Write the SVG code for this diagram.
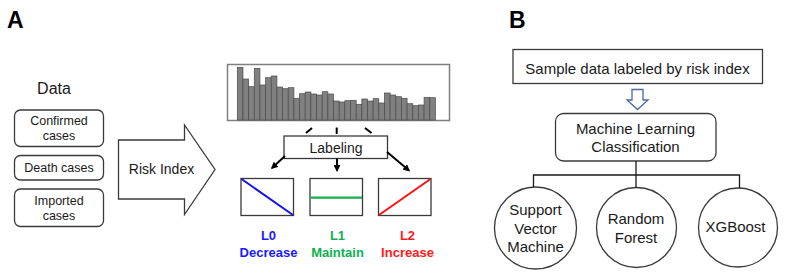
<svg xmlns="http://www.w3.org/2000/svg" width="787" height="275" viewBox="0 0 787 275">
<defs>
<style>
text{font-family:"Liberation Sans",Arial,sans-serif;fill:#1a1a1a;text-anchor:middle}
.panel{font-size:23px;font-weight:bold;text-anchor:start;fill:#000}
.box{fill:#fff;stroke:#3a3a3a;stroke-width:1.3}
.t12{font-size:12.5px}
.t14{font-size:14px}
.t15{font-size:15px}
.lab{font-size:13px;font-weight:bold}
.bar{fill:#808080;stroke:#4a4a4a;stroke-width:0.7}
.arr{stroke:#000;stroke-width:2;fill:none;marker-end:url(#ah)}
.tree{stroke:#1a1a1a;stroke-width:1.3;fill:none}
</style>
<marker id="ah" viewBox="0 0 10 10" refX="8" refY="5" markerWidth="3.5" markerHeight="3.5" orient="auto" markerUnits="strokeWidth">
<path d="M0,0 L10,5 L0,10 z" fill="#000"/>
</marker>
</defs>
<rect width="787" height="275" fill="#fff"/>

<text class="panel" x="7" y="28">A</text>
<text class="panel" x="509" y="28">B</text>

<g id="data-label"><text x="54" y="94" style="font-size:16px">Data</text></g>
<g id="confirmed">
<rect class="box" x="14.5" y="110" width="89" height="36.5" rx="6"/>
<text class="t12" x="59" y="125">Confirmed</text>
<text class="t12" x="59" y="140">cases</text>
</g>
<g id="death">
<rect class="box" x="14.5" y="155.5" width="89" height="24.5" rx="6"/>
<text class="t12" x="59" y="172">Death cases</text>
</g>
<g id="imported">
<rect class="box" x="14.5" y="189" width="89" height="37.5" rx="6"/>
<text class="t12" x="59" y="205">Imported</text>
<text class="t12" x="59" y="220">cases</text>
</g>

<g id="risk-index">
<path class="box" d="M118.5,140 L184.5,140 L184.5,125 L215,169.5 L184.5,214.5 L184.5,199 L118.5,199 z"/>
<text class="t14" x="161.5" y="174">Risk Index</text>
</g>

<g id="chart">
<rect x="227.5" y="64.5" width="222" height="56" fill="#fff" stroke="#808080" stroke-width="1.5"/>
<rect class="bar" x="237.3" y="67.3" width="5.66" height="52.7"/>
<rect class="bar" x="242.96" y="79" width="5.66" height="41"/>
<rect class="bar" x="248.62" y="86.7" width="5.66" height="33.3"/>
<rect class="bar" x="254.28" y="68.3" width="5.66" height="51.7"/>
<rect class="bar" x="259.94" y="85" width="5.66" height="35"/>
<rect class="bar" x="265.6" y="77.7" width="5.66" height="42.3"/>
<rect class="bar" x="271.26" y="76" width="5.66" height="44"/>
<rect class="bar" x="276.92" y="87" width="5.66" height="33"/>
<rect class="bar" x="282.58" y="88.7" width="5.66" height="31.3"/>
<rect class="bar" x="288.24" y="87.7" width="5.66" height="32.3"/>
<rect class="bar" x="293.9" y="98.3" width="5.66" height="21.7"/>
<rect class="bar" x="299.56" y="93.7" width="5.66" height="26.3"/>
<rect class="bar" x="305.22" y="92" width="5.66" height="28"/>
<rect class="bar" x="310.88" y="94" width="5.66" height="26"/>
<rect class="bar" x="316.54" y="95" width="5.66" height="25"/>
<rect class="bar" x="322.2" y="91.7" width="5.66" height="28.3"/>
<rect class="bar" x="327.86" y="94" width="5.66" height="26"/>
<rect class="bar" x="333.52" y="101" width="5.66" height="19"/>
<rect class="bar" x="339.18" y="102" width="5.66" height="18"/>
<rect class="bar" x="344.84" y="100.7" width="5.66" height="19.3"/>
<rect class="bar" x="350.5" y="100.3" width="5.66" height="19.7"/>
<rect class="bar" x="356.16" y="104.3" width="5.66" height="15.7"/>
<rect class="bar" x="361.82" y="99" width="5.66" height="21"/>
<rect class="bar" x="367.48" y="101" width="5.66" height="19"/>
<rect class="bar" x="373.14" y="98.7" width="5.66" height="21.3"/>
<rect class="bar" x="378.8" y="103" width="5.66" height="17"/>
<rect class="bar" x="384.46" y="93" width="5.66" height="27"/>
<rect class="bar" x="390.12" y="95" width="5.66" height="25"/>
<rect class="bar" x="395.78" y="96.7" width="5.66" height="23.3"/>
<rect class="bar" x="401.44" y="98.3" width="5.66" height="21.7"/>
<rect class="bar" x="407.1" y="103.7" width="5.66" height="16.3"/>
<rect class="bar" x="412.76" y="105.7" width="5.66" height="14.3"/>
<rect class="bar" x="418.42" y="105" width="5.66" height="15"/>
<rect class="bar" x="424.08" y="97.3" width="5.66" height="22.7"/>
<rect class="bar" x="429.74" y="97.7" width="5.66" height="22.3"/>
</g>

<g id="labeling">
<rect class="box" x="284" y="136" width="103.5" height="22.5"/>
<text class="t14" x="336" y="152.5">Labeling</text>
</g>

<g id="l0">
<rect class="box" x="241" y="178.5" width="52.5" height="37"/>
<line x1="241.5" y1="179" x2="293" y2="215" stroke="#1010ee" stroke-width="2"/>
<text class="lab" x="268.5" y="240" style="fill:#1a1aff">L0</text>
<text class="lab" x="268.5" y="256.5" style="fill:#1a1aff">Decrease</text>
</g>
<g id="l1">
<rect class="box" x="310" y="178.5" width="52.5" height="37"/>
<line x1="310.5" y1="197.7" x2="362" y2="197.7" stroke="#12b04c" stroke-width="2.2"/>
<text class="lab" x="337.5" y="240" style="fill:#10b050">L1</text>
<text class="lab" x="337.5" y="256.5" style="fill:#10b050">Maintain</text>
</g>
<g id="l2">
<rect class="box" x="378.5" y="178.5" width="52.5" height="37"/>
<line x1="379" y1="215" x2="430.5" y2="179" stroke="#ff1010" stroke-width="2"/>
<text class="lab" x="407.5" y="240" style="fill:#ff1a1a">L2</text>
<text class="lab" x="407.5" y="256.5" style="fill:#ff1a1a">Increase</text>
</g>

<g id="sample">
<rect class="box" x="513" y="49.5" width="249.5" height="34"/>
<text class="t15" x="637.5" y="73.5">Sample data labeled by risk index</text>
</g>
<g id="ml">
<rect class="box" x="555.5" y="113.5" width="160.5" height="47.5" rx="8"/>
<text class="t15" x="635.5" y="133.5">Machine Learning</text>
<text class="t15" x="635.5" y="152">Classification</text>
</g>
<g id="svm">
<circle class="box" cx="535.5" cy="228" r="41"/>
<text class="t15" x="535.5" y="214.5">Support</text>
<text class="t15" x="535.5" y="233.5">Vector</text>
<text class="t15" x="535.5" y="252">Machine</text>
</g>
<g id="rf">
<circle class="box" cx="636.5" cy="227.5" r="40"/>
<text class="t15" x="636" y="223.5">Random</text>
<text class="t15" x="636" y="242.5">Forest</text>
</g>
<g id="xgb">
<circle class="box" cx="738" cy="227.5" r="39.5"/>
<text class="t15" x="735.5" y="232">XGBoost</text>
</g>

<g id="connectors">
<path d="M306,133 L312,128" stroke="#000" stroke-width="2" fill="none"/>
<path d="M336.7,127.5 L336.7,134" stroke="#000" stroke-width="2" fill="none"/>
<path d="M365,128 L371.5,133" stroke="#000" stroke-width="2" fill="none"/>
<line class="arr" x1="285" y1="156" x2="272" y2="168"/>
<line class="arr" x1="337" y1="158.5" x2="337" y2="170.5"/>
<line class="arr" x1="387" y1="152" x2="409" y2="170.5"/>
<path d="M632,89.5 L643,89.5 L643,100 L648,100 L637.5,109.5 L627,100 L632,100 z" fill="#fff" stroke="#4a6b9c" stroke-width="1.3"/>
<path class="tree" d="M636,161 L636,187.5 M533.5,187 L533.5,175 L739.5,175 L739.5,188"/>
</g>
</svg>
